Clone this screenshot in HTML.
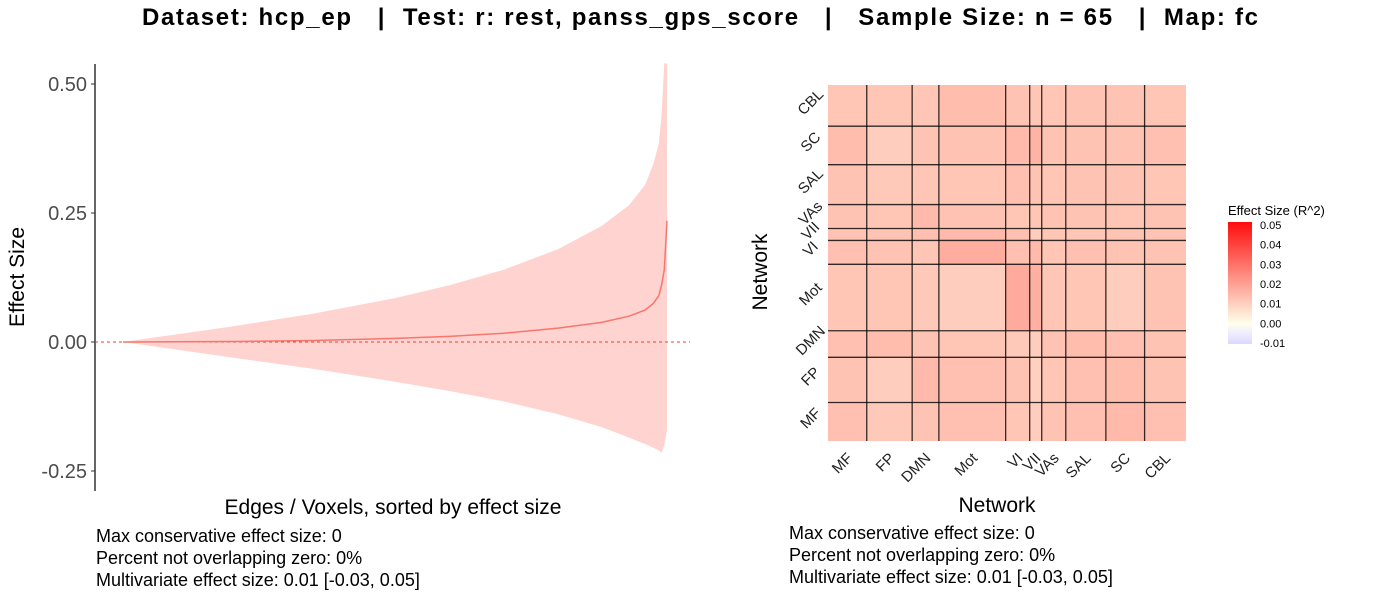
<!DOCTYPE html>
<html><head><meta charset="utf-8">
<style>
html,body{margin:0;padding:0;background:#fff;}
body{width:1400px;height:600px;overflow:hidden;font-family:"Liberation Sans",Arial,sans-serif;}
svg text{font-family:"Liberation Sans",Arial,sans-serif;}
</style></head>
<body>
<svg id="root" width="1400" height="600" viewBox="0 0 1400 600">
<text x="700" y="25" text-anchor="middle" font-size="24" font-weight="bold" fill="#000" textLength="1116" lengthAdjust="spacing" xml:space="preserve">Dataset: hcp_ep   |  Test: r: rest, panss_gps_score   |   Sample Size: n = 65   |  Map: fc</text>
<g id="left"></g>
<g id="right"></g>
<g font-size="18" fill="#000">
<text x="96" y="542">Max conservative effect size: 0</text>
<text x="96" y="564">Percent not overlapping zero: 0%</text>
<text x="96" y="586">Multivariate effect size: 0.01 [-0.03, 0.05]</text>
</g>
<g font-size="18" fill="#000">
<text x="789" y="539">Max conservative effect size: 0</text>
<text x="789" y="561">Percent not overlapping zero: 0%</text>
<text x="789" y="583">Multivariate effect size: 0.01 [-0.03, 0.05]</text>
</g>
</svg>
<script>
// ---- Left chart data ----
const rankPos = [0, 0.2, 0.35, 0.5, 0.6, 0.7, 0.8, 0.88, 0.93, 0.96, 0.975, 0.985, 0.99, 0.995, 1.0];
const estimate = [0, 0.001, 0.003, 0.007, 0.011, 0.017, 0.027, 0.038, 0.05, 0.062, 0.075, 0.09, 0.11, 0.14, 0.235];
const upperCI = [0, 0.03, 0.055, 0.085, 0.11, 0.14, 0.18, 0.225, 0.265, 0.305, 0.345, 0.385, 0.44, 0.54, 0.54];
const lowerCI = [0, -0.03, -0.052, -0.077, -0.095, -0.115, -0.14, -0.165, -0.185, -0.198, -0.205, -0.21, -0.215, -0.2, -0.17];
const yTicks = [0.5, 0.25, 0, -0.25];
const yTickLabels = ["0.50", "0.25", "0.00", "-0.25"];

// ---- Heatmap data ----
const networks = ["MF","FP","DMN","Mot","VI","VII","VAs","SAL","SC","CBL"];
const netSizes = [29, 34, 20, 50, 18, 9, 18, 30, 29, 31];
// block mean effect sizes [row (bottom->top)][col]
const blockVals = [
 [0.020,0.017,0.019,0.020,0.018,0.016,0.019,0.020,0.022,0.020],
 [0.019,0.016,0.022,0.020,0.019,0.015,0.018,0.020,0.021,0.019],
 [0.020,0.021,0.019,0.018,0.017,0.016,0.019,0.021,0.020,0.019],
 [0.018,0.018,0.017,0.016,0.027,0.025,0.018,0.018,0.016,0.019],
 [0.020,0.019,0.018,0.026,0.020,0.022,0.018,0.020,0.019,0.019],
 [0.019,0.019,0.020,0.022,0.020,0.016,0.018,0.018,0.019,0.019],
 [0.019,0.018,0.022,0.019,0.018,0.018,0.019,0.019,0.018,0.019],
 [0.019,0.017,0.018,0.018,0.020,0.019,0.018,0.019,0.019,0.018],
 [0.021,0.016,0.019,0.019,0.022,0.024,0.019,0.019,0.019,0.020],
 [0.018,0.018,0.018,0.021,0.019,0.018,0.018,0.019,0.019,0.018]
];
const legendTicks = [0.05,0.04,0.03,0.02,0.01,0,-0.01];
const legendLabels = ["0.05","0.04","0.03","0.02","0.01","0.00","-0.01"];

const NS="http://www.w3.org/2000/svg";
function mk(parent, tag, attrs){const e=document.createElementNS(NS,tag);for(const k in attrs)e.setAttribute(k,attrs[k]);parent.appendChild(e);return e;}

// ---- Left chart ----
const L=document.getElementById('left');
const xL=t=>123+t*(667-123);
const yL=v=>342-v*516;
mk(L,'line',{x1:95,y1:64,x2:95,y2:491,stroke:'#000','stroke-width':1.2});
let pts=[];
for(let i=0;i<rankPos.length;i++)pts.push(xL(rankPos[i])+','+yL(upperCI[i]));
for(let i=rankPos.length-1;i>=0;i--)pts.push(xL(rankPos[i])+','+yL(lowerCI[i]));
const band=mk(L,'polygon',{points:pts.join(' '),fill:'#ffd3d0',stroke:'none'});


const zl=mk(L,'line',{x1:95,y1:yL(0),x2:690,y2:yL(0),stroke:'#e8413a','stroke-width':1,'stroke-dasharray':'3,3'});


const ln=mk(L,'polyline',{points:rankPos.map((r,i)=>xL(r)+','+yL(estimate[i])).join(' '),fill:'none',stroke:'#f8766d','stroke-width':1.5});


yTicks.forEach((v,i)=>{
  const tk=mk(L,'line',{x1:91,y1:yL(v),x2:95,y2:yL(v),stroke:'#333','stroke-width':1});
  
  
  const t=mk(L,'text',{x:87,y:yL(v)+7,'text-anchor':'end','font-size':20,fill:'#4d4d4d'});
  t.textContent=yTickLabels[i];
  
  
});
let t=mk(L,'text',{x:0,y:0,'text-anchor':'middle','font-size':21,fill:'#000',transform:'translate(24,277) rotate(-90)'});
t.textContent='Effect Size';


t=mk(L,'text',{x:393,y:514,'text-anchor':'middle','font-size':21,fill:'#000'});
t.textContent='Edges / Voxels, sorted by effect size';



// ---- Heatmap ----
const R=document.getElementById('right');
const hx0=828,hx1=1186,hy0=85,hy1=441;
const total=netSizes.reduce((a,b)=>a+b,0);
const cum=[0];netSizes.forEach(s=>cum.push(cum[cum.length-1]+s));
const xH=n=>hx0+n/total*(hx1-hx0);
const yH=n=>hy1-n/total*(hy1-hy0);
function col(v){
  if(v>=0){const f=Math.min(v/0.05,1);const g=Math.round(255-255*f*0.95);return 'rgb(255,'+g+','+Math.round(g*0.92)+')';}
  const f=Math.min(-v/0.01,1);return 'rgb('+Math.round(255-35*f)+','+Math.round(255-40*f)+',255)';
}
for(let r=0;r<10;r++)for(let c=0;c<10;c++){
  const x=xH(cum[c]),y=yH(cum[r+1]);
  const rc=mk(R,'rect',{x:x,y:y,width:xH(cum[c+1])-x,height:yH(cum[r])-y,fill:col(blockVals[r][c]*0.65)});
  
  
}
for(let i=1;i<10;i++){
  const vl=mk(R,'line',{x1:xH(cum[i]),y1:hy0,x2:xH(cum[i]),y2:hy1,stroke:'#000','stroke-width':1.3,opacity:0.8});
  
  
  const hl=mk(R,'line',{x1:hx0,y1:yH(cum[i]),x2:hx1,y2:yH(cum[i]),stroke:'#000','stroke-width':1.3,opacity:0.8});
  
  
}
networks.forEach((n,i)=>{
  const mx=xH((cum[i]+cum[i+1])/2), my=yH((cum[i]+cum[i+1])/2);
  const a=mk(R,'text',{x:0,y:0,'text-anchor':'end','font-size':15,fill:'#222',transform:'translate('+(mx+6)+','+(hy1+18)+') rotate(-45)'});
  a.textContent=n;
  
  
  const b=mk(R,'text',{x:0,y:0,'text-anchor':'middle','font-size':15,fill:'#222',transform:'translate('+(hx0-14)+','+my+') rotate(-45)'});
  b.textContent=n;
  
  
});
t=mk(R,'text',{x:997,y:512,'text-anchor':'middle','font-size':21,fill:'#000'});
t.textContent='Network';


t=mk(R,'text',{x:0,y:0,'text-anchor':'middle','font-size':21,fill:'#000',transform:'translate(767,272) rotate(-90)'});
t.textContent='Network';


// legend
const lg=mk(R,'g',{});


const defs=mk(lg,'defs',{});
const gr=mk(defs,'linearGradient',{id:'cb',x1:0,y1:0,x2:0,y2:1});
for(let k=0;k<=12;k++){const v=0.05-k*0.005;mk(gr,'stop',{offset:(k/12),'stop-color':col(v)});}
const yLg=v=>225+(0.05-v)/0.06*118;
const cbr=mk(lg,'rect',{x:1228,y:222,width:24,height:122,fill:'url(#cb)'});


t=mk(lg,'text',{x:1228,y:215,'font-size':13,fill:'#000'});
t.textContent='Effect Size (R^2)';


legendTicks.forEach((v,i)=>{
  const lt=mk(lg,'text',{x:1260,y:yLg(v)+4,'font-size':11,fill:'#000'});
  lt.textContent=legendLabels[i];
  
  
});
</script>
</body></html>
